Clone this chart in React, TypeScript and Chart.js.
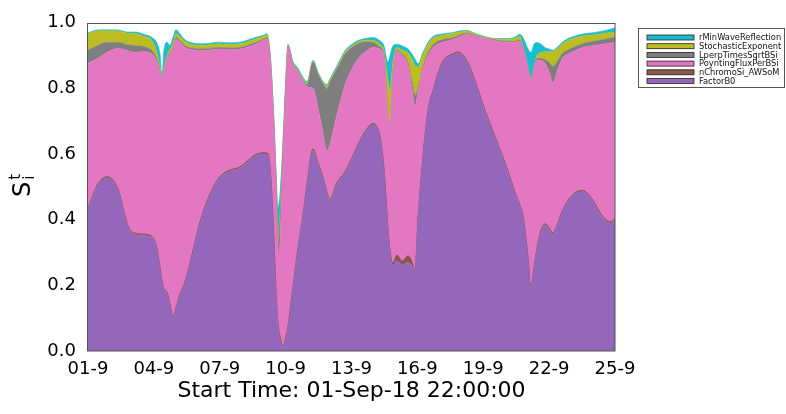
import React, { useEffect, useRef } from 'react';
import { Chart, registerables } from 'chart.js';

Chart.register(...registerables);

// x positions in days since 01-9
const days = [0, 0.41, 0.865, 1.366, 1.822, 2.14, 2.55, 2.915, 3.142, 3.279, 3.37, 3.461, 3.598, 3.734, 3.871, 4.008, 4.19, 4.418, 4.736, 5.1, 5.465, 5.92, 6.376, 6.922, 7.605, 7.97, 8.152, 8.288, 8.425, 8.562, 8.653, 8.744, 8.881, 9.017, 9.108, 9.336, 9.564, 9.791, 9.974, 10.247, 10.475, 10.657, 10.884, 11.021, 11.34, 11.704, 12.023, 12.296, 12.615, 12.979, 13.298, 13.48, 13.662, 13.753, 13.89, 14.072, 14.3, 14.573, 14.755, 14.892, 15.029, 15.257, 15.484, 15.712, 16.122, 16.577, 16.85, 17.26, 17.624, 18.08, 18.535, 19.127, 19.446, 19.674, 19.81, 19.947, 20.038, 20.175, 20.311, 20.448, 20.63, 20.812, 20.995, 21.177, 21.359, 21.587, 21.86, 22.179, 22.543, 22.998, 23.454, 23.773, 24];

const factorB0 = [0.43, 0.5, 0.527, 0.49, 0.377, 0.355, 0.352, 0.345, 0.308, 0.25, 0.21, 0.185, 0.175, 0.14, 0.1, 0.13, 0.17, 0.207, 0.29, 0.39, 0.46, 0.52, 0.545, 0.557, 0.593, 0.6, 0.6, 0.56, 0.4, 0.18, 0.08, 0.04, 0.01, 0.04, 0.07, 0.19, 0.31, 0.41, 0.505, 0.61, 0.57, 0.536, 0.48, 0.46, 0.51, 0.542, 0.585, 0.626, 0.665, 0.689, 0.65, 0.55, 0.37, 0.3, 0.26, 0.275, 0.262, 0.27, 0.26, 0.24, 0.4, 0.59, 0.73, 0.79, 0.875, 0.9, 0.907, 0.88, 0.82, 0.73, 0.65, 0.545, 0.48, 0.44, 0.41, 0.34, 0.28, 0.19, 0.25, 0.31, 0.365, 0.383, 0.372, 0.356, 0.38, 0.42, 0.455, 0.478, 0.485, 0.455, 0.405, 0.39, 0.4];

const nChromoSi = [0.004, 0.004, 0.004, 0.004, 0.004, 0.004, 0.004, 0.004, 0.004, 0.004, 0.004, 0.004, 0.004, 0.004, 0.004, 0.004, 0.004, 0.004, 0.004, 0.004, 0.004, 0.004, 0.004, 0.004, 0.004, 0.004, 0.004, 0.005, 0.006, 0.006, 0.006, 0.006, 0.005, 0.006, 0.006, 0.006, 0.005, 0.004, 0.004, 0.006, 0.004, 0.004, 0.005, 0.004, 0.004, 0.004, 0.004, 0.004, 0.004, 0.004, 0.004, 0.004, 0.004, 0.004, 0.008, 0.018, 0.012, 0.02, 0.012, 0.005, 0.005, 0.004, 0.004, 0.004, 0.004, 0.004, 0.004, 0.004, 0.004, 0.004, 0.004, 0.004, 0.004, 0.004, 0.004, 0.004, 0.004, 0.004, 0.004, 0.004, 0.004, 0.004, 0.004, 0.004, 0.004, 0.004, 0.004, 0.004, 0.004, 0.004, 0.004, 0.004, 0.004];

const poyntingFlux = [0.443, 0.386, 0.379, 0.428, 0.534, 0.551, 0.556, 0.556, 0.568, 0.596, 0.616, 0.671, 0.711, 0.761, 0.816, 0.816, 0.766, 0.714, 0.624, 0.521, 0.452, 0.396, 0.369, 0.359, 0.337, 0.341, 0.348, 0.335, 0.344, 0.334, 0.214, 0.284, 0.585, 0.774, 0.849, 0.674, 0.535, 0.406, 0.296, 0.184, 0.166, 0.14, 0.125, 0.166, 0.206, 0.264, 0.271, 0.26, 0.241, 0.232, 0.266, 0.346, 0.346, 0.386, 0.582, 0.622, 0.626, 0.58, 0.528, 0.5, 0.385, 0.266, 0.166, 0.131, 0.061, 0.044, 0.044, 0.081, 0.136, 0.218, 0.292, 0.391, 0.456, 0.501, 0.506, 0.546, 0.576, 0.632, 0.606, 0.572, 0.516, 0.49, 0.474, 0.457, 0.466, 0.466, 0.446, 0.433, 0.436, 0.471, 0.526, 0.544, 0.536];

const lperpSqrtB = [0.039, 0.04, 0.03, 0.018, 0.018, 0.02, 0.015, 0.01, 0.008, 0.005, 0.002, 0.002, 0.003, 0.004, 0.004, 0.005, 0.005, 0.005, 0.005, 0.005, 0.005, 0.005, 0.005, 0.005, 0.005, 0.004, 0.003, 0.003, 0.003, 0.01, 0.03, 0.07, 0.02, 0.01, 0.003, 0.003, 0.003, 0.004, 0.005, 0.08, 0.104, 0.14, 0.19, 0.19, 0.14, 0.095, 0.065, 0.046, 0.032, 0.015, 0.006, 0.004, 0.003, 0.003, 0.003, 0.003, 0.005, 0.008, 0.02, 0.035, 0.01, 0.008, 0.008, 0.008, 0.008, 0.006, 0.005, 0.003, 0.002, 0.002, 0.002, 0.003, 0.003, 0.003, 0.003, 0.002, 0.002, 0.002, 0.003, 0.005, 0.006, 0.01, 0.03, 0.05, 0.03, 0.015, 0.012, 0.012, 0.012, 0.013, 0.014, 0.015, 0.015];

const stochasticExp = [0.051, 0.045, 0.036, 0.035, 0.035, 0.037, 0.032, 0.03, 0.02, 0.01, 0.004, 0.005, 0.008, 0.01, 0.012, 0.012, 0.013, 0.012, 0.011, 0.011, 0.011, 0.011, 0.011, 0.011, 0.011, 0.009, 0.008, 0.005, 0.004, 0.01, 0.02, 0.02, 0.01, 0.005, 0.003, 0.004, 0.004, 0.005, 0.006, 0.003, 0.003, 0.003, 0.008, 0.006, 0.005, 0.005, 0.005, 0.005, 0.005, 0.006, 0.008, 0.01, 0.1, 0.1, 0.03, 0.007, 0.012, 0.03, 0.07, 0.09, 0.065, 0.035, 0.026, 0.02, 0.014, 0.013, 0.011, 0.007, 0.004, 0.003, 0.003, 0.006, 0.01, 0.01, 0.005, 0.003, 0.003, 0.002, 0.004, 0.01, 0.018, 0.025, 0.032, 0.045, 0.04, 0.03, 0.03, 0.027, 0.023, 0.02, 0.018, 0.017, 0.015];

const rMinWave = [0.002, 0.003, 0.003, 0.003, 0.004, 0.005, 0.006, 0.01, 0.03, 0.04, 0.006, 0.05, 0.04, 0.012, 0.02, 0.012, 0.008, 0.006, 0.005, 0.005, 0.005, 0.005, 0.005, 0.005, 0.005, 0.004, 0.004, 0.003, 0.004, 0.01, 0.09, 0.06, 0.01, 0.005, 0.004, 0.005, 0.005, 0.005, 0.005, 0.003, 0.003, 0.003, 0.004, 0.004, 0.005, 0.005, 0.005, 0.005, 0.005, 0.009, 0.011, 0.016, 0.057, 0.107, 0.047, 0.01, 0.013, 0.012, 0.015, 0.02, 0.01, 0.007, 0.006, 0.005, 0.004, 0.003, 0.003, 0.002, 0.002, 0.001, 0.001, 0.003, 0.004, 0.007, 0.027, 0.04, 0.055, 0.08, 0.068, 0.039, 0.026, 0.013, 0.008, 0.004, 0.005, 0.005, 0.005, 0.006, 0.006, 0.007, 0.008, 0.01, 0.015];

const seriesNames = ['FactorB0', 'nChromoSi_AWSoM', 'PoyntingFluxPerBSi', 'LperpTimesSqrtBSi', 'StochasticExponent', 'rMinWaveReflection'];
const seriesColors = ['#9467bd', '#8c564b', '#e377c2', '#7f7f7f', '#bcbd22', '#17becf'];
const seriesValues = [factorB0, nChromoSi, poyntingFlux, lperpSqrtB, stochasticExp, rMinWave];

const xTickLabels = ['01-9', '04-9', '07-9', '10-9', '13-9', '16-9', '19-9', '22-9', '25-9'];
const yTickValues = [0, 0.2, 0.4, 0.6, 0.8, 1.0];
const xTitle = 'Start Time: 01-Sep-18 22:00:00';

const FONT = '"DejaVu Sans", "Liberation Sans", sans-serif';

const decorPlugin = {
  id: 'decor',
  afterDraw(chart: any) {
    const ctx = chart.ctx as CanvasRenderingContext2D;
    const a = chart.chartArea;
    ctx.save();
    // frame
    ctx.strokeStyle = '#555555';
    ctx.lineWidth = 1;
    ctx.strokeRect(Math.round(a.left) - 0.5, Math.round(a.top) + 0.5, Math.round(a.right - a.left) + 0.5, Math.round(a.bottom - a.top) - 0.5);

    // x title
    ctx.fillStyle = '#000';
    ctx.font = `22px ${FONT}`;
    ctx.textAlign = 'center';
    ctx.textBaseline = 'alphabetic';
    ctx.fillText(xTitle, (a.left + a.right) / 2, 397);

    // y title S_i^t
    ctx.save();
    ctx.translate(30, 197);
    ctx.rotate(-Math.PI / 2);
    ctx.textAlign = 'left';
    ctx.font = `24px ${FONT}`;
    ctx.fillText('S', 0, 0);
    const w = ctx.measureText('S').width;
    ctx.font = `15px ${FONT}`;
    ctx.fillText('i', w + 2, 4);
    ctx.fillText('t', w + 2, -10);
    ctx.restore();

    // legend
    const lx = 638.5, ly = 28.5, lw = 146, lh = 59;
    ctx.fillStyle = '#fff';
    ctx.fillRect(lx, ly, lw, lh);
    ctx.strokeStyle = '#555555';
    ctx.strokeRect(lx, ly, lw, lh);
    ctx.font = `8.3px ${FONT}`;
    ctx.textAlign = 'left';
    ctx.textBaseline = 'middle';
    for (let k = 0; k < seriesNames.length; k++) {
      const idx = seriesNames.length - 1 - k;
      const cy = 37.5 + k * 8.7;
      ctx.fillStyle = seriesColors[idx];
      ctx.fillRect(647, cy - 2.5, 47, 5);
      ctx.strokeStyle = '#222';
      ctx.lineWidth = 0.8;
      ctx.strokeRect(647, cy - 2.5, 47, 5);
      ctx.fillStyle = '#111';
      ctx.fillText(seriesNames[idx], 699, cy + 0.5);
    }
    ctx.restore();
  },
};

export default function App() {
  const ref = useRef<HTMLCanvasElement | null>(null);
  useEffect(() => {
    if (!ref.current) return;
    const datasets = seriesValues.map((vals, i) => ({
      label: seriesNames[i],
      data: days.map((d, j) => ({ x: d, y: vals[j] })),
      backgroundColor: seriesColors[i],
      borderColor: seriesColors[i],
      borderWidth: i === 1 ? 1 : 0.6,
      pointRadius: 0,
      fill: i === 0 ? 'origin' : '-1',
      cubicInterpolationMode: 'monotone' as const,
    }));
    const chart = new Chart(ref.current, {
      type: 'line',
      data: { datasets },
      options: {
        animation: false,
        responsive: false,
        layout: { padding: { left: 0, top: 17, right: 171, bottom: 0 } },
        plugins: { legend: { display: false }, tooltip: { enabled: false } },
        scales: {
          x: {
            type: 'linear',
            min: 0,
            max: 24,
            grid: { display: false, drawTicks: false },
            border: { display: false },
            ticks: {
              stepSize: 3,
              padding: 8,
              color: '#000',
              font: { size: 18, family: FONT },
              maxRotation: 0,
              autoSkip: false,
              callback: (v: any) => xTickLabels[Math.round(Number(v) / 3)] ?? '',
            },
            afterFit: (s: any) => { s.height = 63; },
          },
          y: {
            type: 'linear',
            stacked: true,
            min: 0,
            max: 1,
            grid: { display: false, drawTicks: false },
            border: { display: false },
            afterBuildTicks: (s: any) => { s.ticks = yTickValues.map((v) => ({ value: v })); },
            ticks: {
              padding: 12,
              color: '#000',
              font: { size: 18, family: FONT },
              callback: (v: any) => Number(v).toFixed(1),
            },
            afterFit: (s: any) => { s.width = 88; },
          },
        },
      },
      plugins: [decorPlugin],
    });
    return () => chart.destroy();
  }, []);
  return (
    <div style={{ position: 'fixed', left: 0, top: 0, width: 786, height: 414, background: '#fff' }}>
      <canvas ref={ref} width={786} height={414} style={{ display: 'block' }} />
    </div>
  );
}
